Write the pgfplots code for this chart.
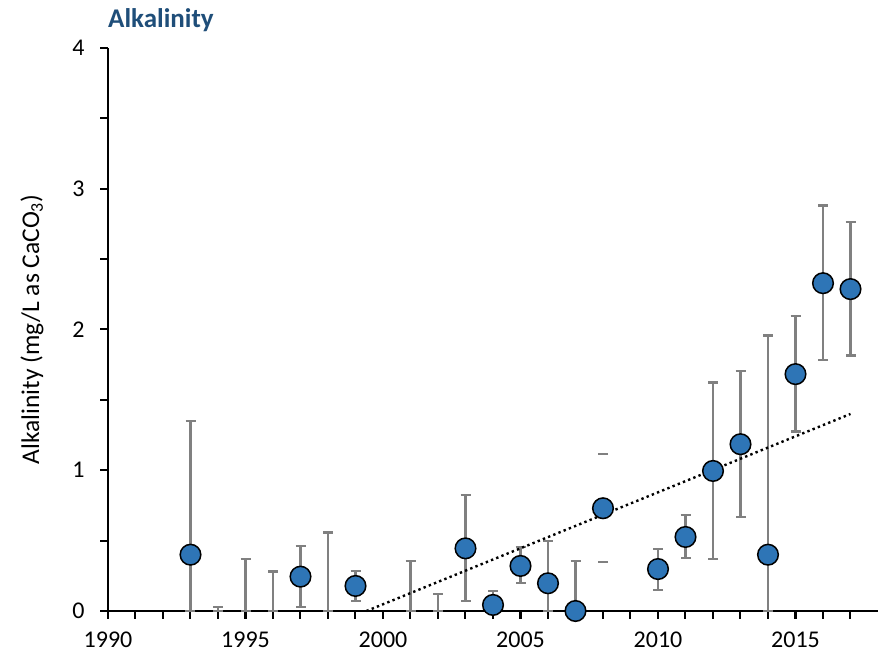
\documentclass[border=0pt]{standalone}
\usepackage{pgfplots}
\pgfplotsset{compat=1.18}
\usepackage{fontspec}
\setmainfont{Carlito}
\definecolor{ptblue}{RGB}{46,117,182}
\definecolor{ttlblue}{RGB}{31,78,121}
\definecolor{errgray}{RGB}{128,128,128}
\begin{document}
\begin{tikzpicture}
\useasboundingbox (-108pt,-41pt) rectangle (770pt,611pt);
\begin{axis}[
  at={(0,0)}, anchor=south west,
  scale only axis, width=770pt, height=563pt,
  xmin=1990, xmax=2018, ymin=0, ymax=4,
  axis x line*=bottom, axis y line*=left,
  axis line style={line width=2.6pt},
  xtick={1990,1995,...,2015}, minor xtick={1991,...,2017},
  ytick={0,1,2,3,4}, minor ytick={0.5,1.5,2.5,3.5},
  tick align=outside, major tick length=8pt, minor tick length=8pt,
  every tick/.style={black, line width=2pt},
  tick label style={font=\fontsize{24}{24}\selectfont},
  /pgf/number format/assume math mode=true,
  xticklabel style={/pgf/number format/1000 sep={}, yshift=-9pt},
  yticklabel style={xshift=-12pt},
  every axis y label/.style={at={(axis description cs:-0.0987,0.5)}, rotate=90, anchor=center, font=\fontsize{25.5}{25.5}\selectfont},
  ylabel={Alkalinity (mg/L as CaCO\textsubscript{3})},
  clip=false,
]
% error bars
\addplot[forget plot, draw=none, mark=none,
  error bars/.cd, y dir=both, y explicit,
  error mark=|,
  error bar style={draw=errgray, line width=2.2pt},
  error mark options={draw=errgray, line width=2.2pt, mark size=5pt}]
  table[x=x, y expr=(\thisrow{lo}+\thisrow{hi})/2, y error expr=(\thisrow{hi}-\thisrow{lo})/2] {
x lo hi
1993 0 1.352
1994 0 0.031
1995 0 0.37
1996 0 0.28
1997 0.031 0.462
1998 0 0.557
1999 0.073 0.287
2001 0 0.355
2002 0 0.118
2003 0.073 0.824
2004 0 0.142
2005 0.197 0.455
2006 0 0.497
2007 0 0.355
2010 0.149 0.44
2011 0.379 0.682
2012 0.37 1.623
2013 0.67 1.706
2014 0 1.957
2015 1.275 2.097
2016 1.784 2.881
2017 1.815 2.765
};
% 2008 caps only
\addplot[forget plot, only marks, mark=-, mark size=5pt, errgray, line width=2.2pt]
  coordinates {(2008,0.348) (2008,1.114)};
% points
\addplot[only marks, mark=*, mark size=10.3pt, mark options={fill=ptblue, draw=black, line width=1.5pt}]
  table[x=x, y=y] {
x y
1993 0.40
1997 0.244
1999 0.178
2003 0.445
2004 0.043
2005 0.32
2006 0.197
2007 0.0
2008 0.73
2010 0.298
2011 0.526
2012 0.995
2013 1.185
2014 0.40
2015 1.683
2016 2.329
2017 2.287
};
% trend line
\addplot[black, line width=2.4pt, dash pattern=on 2.4pt off 3.2pt] coordinates {(1999.4,0) (2017,1.40)};
\node[anchor=base west, inner sep=0pt, text=ttlblue, font=\fontsize{27}{27}\selectfont\bfseries] at (rel axis cs:0,1) [yshift=20pt] {Alkalinity};
\end{axis}
\end{tikzpicture}
\end{document}
